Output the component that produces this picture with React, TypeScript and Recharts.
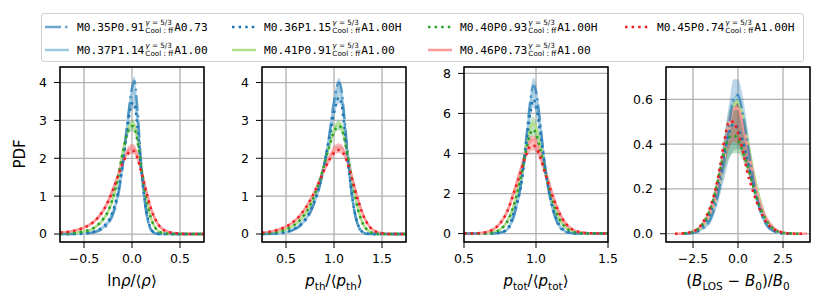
import React from "react"
import { ComposedChart, Line, Area, XAxis, YAxis, CartesianGrid } from "recharts"

// ---- panel 1: ln rho / <rho> ----
const X1 = [-0.75, -0.6, -0.5, -0.4, -0.3, -0.25, -0.2, -0.15, -0.1, -0.05, 0, 0.025, 0.05, 0.1, 0.15, 0.2, 0.25, 0.3, 0.4, 0.5, 0.6, 0.75]
const bDD1 = [0, 0, 0.01, 0.04, 0.15, 0.27, 0.5, 0.95, 1.75, 2.9, 3.85, 4.05, 3.5, 1.7, 0.55, 0.1, 0.01, 0, 0, 0, 0, 0]
const bDot1 = [0, 0.005, 0.02, 0.06, 0.2, 0.33, 0.6, 1.05, 1.8, 2.75, 3.45, 3.45, 3.0, 1.6, 0.6, 0.12, 0.02, 0, 0, 0, 0, 0]
const bSol1 = [0, 0.004, 0.015, 0.05, 0.18, 0.3, 0.56, 1.0, 1.8, 2.85, 3.7, 3.75, 3.25, 1.65, 0.58, 0.11, 0.015, 0, 0, 0, 0, 0]
const bLo1 = [0, 0, 0.01, 0.03, 0.13, 0.24, 0.47, 0.88, 1.6, 2.6, 3.3, 3.3, 2.85, 1.45, 0.48, 0.07, 0.005, 0, 0, 0, 0, 0]
const bHi1 = [0.01, 0.01, 0.03, 0.08, 0.24, 0.38, 0.66, 1.12, 1.95, 3.05, 4.0, 4.17, 3.65, 1.85, 0.68, 0.16, 0.03, 0.005, 0, 0, 0, 0]
const gDot1 = [0.01, 0.03, 0.07, 0.16, 0.4, 0.6, 0.95, 1.45, 2.1, 2.65, 2.85, 2.8, 2.55, 1.7, 0.9, 0.4, 0.14, 0.04, 0.005, 0, 0, 0]
const gSol1 = [0.01, 0.03, 0.065, 0.15, 0.38, 0.58, 0.92, 1.42, 2.1, 2.7, 2.92, 2.88, 2.62, 1.75, 0.92, 0.4, 0.14, 0.04, 0.005, 0, 0, 0]
const gLo1 = [0, 0.02, 0.05, 0.12, 0.33, 0.52, 0.85, 1.33, 1.98, 2.55, 2.72, 2.68, 2.43, 1.6, 0.82, 0.34, 0.11, 0.03, 0, 0, 0, 0]
const gHi1 = [0.02, 0.04, 0.09, 0.19, 0.45, 0.66, 1.02, 1.53, 2.22, 2.82, 3.02, 2.98, 2.72, 1.85, 1.0, 0.47, 0.18, 0.06, 0.01, 0.003, 0, 0]
const rDot1 = [0.04, 0.09, 0.17, 0.32, 0.62, 0.85, 1.15, 1.5, 1.85, 2.1, 2.2, 2.18, 2.05, 1.6, 1.1, 0.65, 0.35, 0.17, 0.04, 0.01, 0, 0]
const rSol1 = [0.04, 0.09, 0.17, 0.32, 0.62, 0.86, 1.17, 1.52, 1.9, 2.17, 2.28, 2.26, 2.12, 1.65, 1.12, 0.66, 0.35, 0.17, 0.04, 0.01, 0, 0]
const rLo1 = [0.02, 0.06, 0.13, 0.27, 0.55, 0.78, 1.07, 1.42, 1.78, 2.04, 2.12, 2.1, 1.97, 1.52, 1.02, 0.58, 0.29, 0.13, 0.02, 0.005, 0, 0]
const rHi1 = [0.06, 0.12, 0.21, 0.37, 0.69, 0.94, 1.27, 1.62, 2.0, 2.28, 2.38, 2.36, 2.22, 1.76, 1.22, 0.74, 0.42, 0.22, 0.07, 0.02, 0.005, 0]

// ---- panel 2: p_th / <p_th> ----
const X2 = [0.25, 0.35, 0.45, 0.55, 0.65, 0.75, 0.8, 0.85, 0.9, 0.95, 1.0, 1.05, 1.075, 1.1, 1.15, 1.2, 1.25, 1.3, 1.35, 1.4, 1.5, 1.6, 1.75]
const bDD2 = [0, 0.005, 0.02, 0.08, 0.22, 0.55, 0.85, 1.25, 1.85, 2.6, 3.5, 4.0, 3.85, 3.3, 1.9, 0.8, 0.22, 0.04, 0, 0, 0, 0, 0]
const bDot2 = [0, 0.01, 0.03, 0.1, 0.25, 0.6, 0.9, 1.3, 1.85, 2.5, 3.2, 3.6, 3.5, 3.0, 1.8, 0.8, 0.25, 0.05, 0.01, 0, 0, 0, 0]
const bSol2 = [0, 0.008, 0.025, 0.09, 0.24, 0.58, 0.88, 1.28, 1.85, 2.55, 3.4, 3.85, 3.72, 3.2, 1.85, 0.8, 0.24, 0.045, 0.005, 0, 0, 0, 0]
const bLo2 = [0, 0, 0.015, 0.06, 0.19, 0.5, 0.79, 1.17, 1.72, 2.38, 3.05, 3.45, 3.35, 2.85, 1.65, 0.66, 0.17, 0.02, 0, 0, 0, 0, 0]
const bHi2 = [0.01, 0.02, 0.04, 0.12, 0.29, 0.66, 0.98, 1.4, 1.98, 2.72, 3.65, 4.12, 4.0, 3.45, 2.05, 0.95, 0.33, 0.08, 0.02, 0.005, 0, 0, 0]
const gDot2 = [0.01, 0.03, 0.08, 0.18, 0.38, 0.75, 1.05, 1.4, 1.85, 2.3, 2.7, 2.85, 2.8, 2.6, 1.95, 1.25, 0.65, 0.28, 0.1, 0.03, 0, 0, 0]
const gSol2 = [0.01, 0.03, 0.08, 0.18, 0.37, 0.74, 1.04, 1.4, 1.86, 2.33, 2.75, 2.9, 2.86, 2.66, 2.0, 1.28, 0.66, 0.28, 0.1, 0.03, 0, 0, 0]
const gLo2 = [0, 0.02, 0.06, 0.15, 0.33, 0.68, 0.97, 1.32, 1.76, 2.2, 2.6, 2.74, 2.7, 2.5, 1.86, 1.16, 0.56, 0.22, 0.07, 0.015, 0, 0, 0]
const gHi2 = [0.02, 0.04, 0.1, 0.21, 0.42, 0.8, 1.11, 1.48, 1.95, 2.44, 2.86, 3.0, 2.96, 2.76, 2.1, 1.38, 0.75, 0.35, 0.14, 0.05, 0.01, 0, 0]
const rDot2 = [0.03, 0.07, 0.14, 0.27, 0.5, 0.88, 1.12, 1.4, 1.7, 1.95, 2.15, 2.22, 2.2, 2.12, 1.8, 1.35, 0.9, 0.52, 0.27, 0.12, 0.02, 0, 0]
const rSol2 = [0.03, 0.07, 0.14, 0.27, 0.5, 0.88, 1.13, 1.42, 1.73, 2.0, 2.22, 2.3, 2.28, 2.2, 1.86, 1.38, 0.92, 0.53, 0.27, 0.12, 0.02, 0, 0]
const rLo2 = [0.015, 0.05, 0.11, 0.23, 0.45, 0.81, 1.05, 1.32, 1.61, 1.87, 2.07, 2.14, 2.12, 2.04, 1.72, 1.26, 0.82, 0.46, 0.22, 0.09, 0.01, 0, 0]
const rHi2 = [0.045, 0.09, 0.17, 0.31, 0.55, 0.95, 1.2, 1.5, 1.83, 2.1, 2.33, 2.4, 2.38, 2.3, 1.96, 1.48, 1.0, 0.6, 0.32, 0.15, 0.03, 0.005, 0]

// ---- panel 3: p_tot / <p_tot> ----
const X3 = [0.5, 0.6, 0.65, 0.7, 0.75, 0.8, 0.85, 0.9, 0.93, 0.96, 0.98, 1.0, 1.03, 1.06, 1.1, 1.15, 1.2, 1.25, 1.3, 1.4, 1.5]
const bDD3 = [0, 0, 0, 0.005, 0.04, 0.18, 0.95, 2.7, 4.6, 6.6, 7.4, 7.1, 5.5, 3.5, 1.7, 0.5, 0.1, 0.02, 0, 0, 0]
const bDot3 = [0, 0, 0, 0.01, 0.05, 0.22, 1.15, 2.6, 4.3, 6.0, 6.7, 6.4, 5.0, 3.4, 1.8, 0.6, 0.15, 0.03, 0, 0, 0]
const bSol3 = [0, 0, 0, 0.008, 0.045, 0.2, 1.05, 2.65, 4.45, 6.3, 7.1, 6.8, 5.3, 3.5, 1.75, 0.55, 0.12, 0.025, 0, 0, 0]
const bLo3 = [0, 0, 0, 0, 0.02, 0.12, 0.8, 2.3, 3.95, 5.6, 6.3, 6.0, 4.65, 3.05, 1.45, 0.4, 0.07, 0.01, 0, 0, 0]
const bHi3 = [0, 0, 0.005, 0.02, 0.08, 0.3, 1.35, 3.0, 4.9, 6.9, 7.8, 7.5, 5.9, 3.9, 2.05, 0.75, 0.2, 0.05, 0.01, 0, 0]
const gDot3 = [0, 0, 0.01, 0.05, 0.2, 0.6, 1.5, 3.0, 4.1, 5.0, 5.2, 5.0, 4.2, 3.2, 2.0, 0.9, 0.35, 0.1, 0.03, 0, 0]
const gSol3 = [0, 0, 0.01, 0.05, 0.2, 0.6, 1.5, 3.1, 4.3, 5.3, 5.5, 5.3, 4.45, 3.35, 2.05, 0.9, 0.35, 0.1, 0.03, 0, 0]
const gLo3 = [0, 0, 0, 0.03, 0.15, 0.5, 1.3, 2.75, 3.8, 4.7, 4.9, 4.7, 3.95, 2.95, 1.8, 0.75, 0.27, 0.07, 0.015, 0, 0]
const gHi3 = [0, 0.005, 0.02, 0.08, 0.26, 0.72, 1.72, 3.35, 4.6, 5.6, 5.85, 5.6, 4.75, 3.6, 2.3, 1.06, 0.44, 0.15, 0.05, 0.005, 0]
const rDot3 = [0, 0.02, 0.07, 0.2, 0.5, 1.1, 2.1, 3.2, 3.9, 4.35, 4.4, 4.3, 3.8, 3.1, 2.2, 1.2, 0.55, 0.22, 0.08, 0.01, 0]
const rSol3 = [0, 0.02, 0.07, 0.2, 0.5, 1.1, 2.15, 3.35, 4.1, 4.6, 4.7, 4.55, 4.0, 3.25, 2.25, 1.22, 0.55, 0.22, 0.08, 0.01, 0]
const rLo3 = [0, 0.01, 0.04, 0.14, 0.4, 0.95, 1.9, 3.0, 3.7, 4.1, 4.15, 4.05, 3.55, 2.85, 1.95, 1.0, 0.42, 0.15, 0.05, 0.005, 0]
const rHi3 = [0.005, 0.04, 0.11, 0.28, 0.62, 1.28, 2.4, 3.6, 4.4, 4.85, 4.9, 4.8, 4.3, 3.55, 2.55, 1.45, 0.7, 0.3, 0.12, 0.02, 0]

// ---- panel 4: (B_LOS - B0) / B0 ----
const X4 = [-3.5, -3, -2.5, -2, -1.5, -1.25, -1, -0.75, -0.5, -0.25, 0, 0.25, 0.5, 0.75, 1, 1.5, 2, 2.5, 3, 3.5, 3.8]
const bDD4 = [null, 0, 0.003, 0.02, 0.07, 0.13, 0.22, 0.34, 0.48, 0.6, 0.62, 0.54, 0.42, 0.29, 0.18, 0.05, 0.01, 0, 0, null, null]
const bDot4 = [null, 0.001, 0.005, 0.03, 0.1, 0.17, 0.26, 0.36, 0.45, 0.49, 0.47, 0.42, 0.34, 0.25, 0.17, 0.06, 0.015, 0.003, 0, null, null]
const bSol4 = [null, 0, 0.004, 0.025, 0.08, 0.14, 0.23, 0.35, 0.49, 0.6, 0.61, 0.54, 0.42, 0.3, 0.19, 0.055, 0.012, 0.002, 0, null, null]
const bLo4 = [null, 0, 0.002, 0.015, 0.05, 0.1, 0.17, 0.25, 0.33, 0.37, 0.38, 0.35, 0.3, 0.22, 0.14, 0.04, 0.008, 0.001, 0, null, null]
const bHi4 = [null, 0.002, 0.01, 0.04, 0.12, 0.2, 0.3, 0.44, 0.58, 0.69, 0.69, 0.62, 0.49, 0.35, 0.23, 0.08, 0.02, 0.005, 0.001, null, null]
const gDot4 = [null, 0.002, 0.01, 0.04, 0.12, 0.19, 0.28, 0.37, 0.43, 0.44, 0.42, 0.37, 0.31, 0.24, 0.17, 0.07, 0.02, 0.004, 0.001, 0, null]
const gSol4 = [null, 0.001, 0.006, 0.03, 0.09, 0.15, 0.24, 0.35, 0.47, 0.57, 0.59, 0.53, 0.43, 0.32, 0.22, 0.08, 0.02, 0.004, 0, 0, null]
const gLo4 = [null, 0, 0.004, 0.02, 0.07, 0.12, 0.19, 0.28, 0.34, 0.36, 0.36, 0.33, 0.28, 0.22, 0.15, 0.06, 0.015, 0.003, 0, 0, null]
const gHi4 = [null, 0.003, 0.014, 0.05, 0.14, 0.22, 0.32, 0.44, 0.55, 0.61, 0.62, 0.56, 0.46, 0.35, 0.25, 0.1, 0.03, 0.007, 0.001, 0, null]
const rDot4 = [0, 0.002, 0.01, 0.045, 0.13, 0.2, 0.3, 0.42, 0.5, 0.5, 0.45, 0.38, 0.28, 0.21, 0.15, 0.06, 0.02, 0.005, 0, 0, 0]
const rSol4 = [0, 0.001, 0.008, 0.035, 0.1, 0.16, 0.25, 0.36, 0.48, 0.56, 0.56, 0.5, 0.4, 0.3, 0.2, 0.08, 0.025, 0.006, 0.001, 0, 0]
const rLo4 = [0, 0, 0.005, 0.025, 0.08, 0.13, 0.21, 0.3, 0.38, 0.41, 0.4, 0.35, 0.29, 0.22, 0.15, 0.06, 0.017, 0.004, 0, 0, 0]
const rHi4 = [0, 0.003, 0.013, 0.05, 0.13, 0.2, 0.3, 0.42, 0.53, 0.59, 0.58, 0.52, 0.43, 0.33, 0.23, 0.09, 0.03, 0.008, 0.002, 0, 0]

const FONT = '"DejaVu Sans", sans-serif'
const MONO = '"DejaVu Sans Mono", monospace'

const C = {
  blue: "#1f77b4",
  green: "#2ca02c",
  red: "#ee1d23",
  lblue: "#9ecae1",
  lgreen: "#b2df8a",
  lred: "#fb9a99",
}

const DASHDOT = "16 4 2.5 4"
const DOTTED = "2.5 4.1"

type Arr = (number | null)[]

function build(x: number[], s: Arr[]) {
  const [bDD, bDot, bSol, bLo, bHi, gDot, gSol, gLo, gHi, rDot, rSol, rLo, rHi] = s
  const band = (lo: Arr, hi: Arr, i: number) =>
    lo[i] == null || hi[i] == null ? null : [lo[i], hi[i]]
  return x.map((v, i) => ({
    x: v,
    bDD: bDD[i],
    bDot: bDot[i],
    bSol: bSol[i],
    bBand: band(bLo, bHi, i),
    gDot: gDot[i],
    gSol: gSol[i],
    gBand: band(gLo, gHi, i),
    rDot: rDot[i],
    rSol: rSol[i],
    rBand: band(rLo, rHi, i),
  }))
}

const data1 = build(X1, [bDD1, bDot1, bSol1, bLo1, bHi1, gDot1, gSol1, gLo1, gHi1, rDot1, rSol1, rLo1, rHi1])
const data2 = build(X2, [bDD2, bDot2, bSol2, bLo2, bHi2, gDot2, gSol2, gLo2, gHi2, rDot2, rSol2, rLo2, rHi2])
const data3 = build(X3, [bDD3, bDot3, bSol3, bLo3, bHi3, gDot3, gSol3, gLo3, gHi3, rDot3, rSol3, rLo3, rHi3])
const data4 = build(X4, [bDD4, bDot4, bSol4, bLo4, bHi4, gDot4, gSol4, gLo4, gHi4, rDot4, rSol4, rLo4, rHi4])

const fmt1 = (v: number) => (v < 0 ? "\u2212" + Math.abs(v).toFixed(1) : v.toFixed(1))
const fmt0 = (v: number) => String(v)

// plot-area geometry (matches the reference pixels)
const PLOT_TOP = 67
const PLOT_W = 144
const PLOT_H = 175
const YW = 45
const RM = 16

interface PanelProps {
  left: number
  data: any[]
  xDomain: [number, number]
  xTicks: number[]
  yDomain: [number, number]
  yTicks: number[]
  fmtY: (v: number) => string
  label: React.ReactNode
}

const tickStyle = { fontSize: 12.5, fill: "#000", fontFamily: FONT }

function Panel({ left, data, xDomain, xTicks, yDomain, yTicks, fmtY, label }: PanelProps) {
  const lineProps = { type: "monotone" as const, dot: false, isAnimationActive: false, connectNulls: false }
  return (
    <>
      <div style={{ position: "absolute", left: left - YW, top: PLOT_TOP - 5 }}>
        <ComposedChart
          width={YW + PLOT_W + RM}
          height={5 + PLOT_H + 30}
          data={data}
          margin={{ top: 5, right: RM, bottom: 0, left: 0 }}
        >
          <CartesianGrid stroke="#b0b0b0" strokeWidth={1.3} />
          <XAxis
            dataKey="x"
            type="number"
            domain={xDomain}
            ticks={xTicks}
            allowDataOverflow
            tickFormatter={fmt1}
            height={30}
            axisLine={false}
            tickLine={{ stroke: "#000" }}
            tickSize={6}
            tickMargin={6}
            tick={tickStyle}
            interval={0}
          />
          <YAxis
            type="number"
            domain={yDomain}
            ticks={yTicks}
            allowDataOverflow
            tickFormatter={fmtY}
            width={YW}
            axisLine={false}
            tickLine={{ stroke: "#000" }}
            tickSize={6}
            tickMargin={7}
            tick={tickStyle}
            interval={0}
          />
          <Area dataKey="bBand" stroke="none" fill={C.blue} fillOpacity={0.3} {...lineProps} />
          <Area dataKey="gBand" stroke="none" fill={C.green} fillOpacity={0.3} {...lineProps} />
          <Area dataKey="rBand" stroke="none" fill={C.red} fillOpacity={0.3} {...lineProps} />
          <Line dataKey="bSol" stroke={C.lblue} strokeWidth={2.5} {...lineProps} />
          <Line dataKey="gSol" stroke={C.lgreen} strokeWidth={2.5} {...lineProps} />
          <Line dataKey="rSol" stroke={C.lred} strokeWidth={2.5} {...lineProps} />
          <Line dataKey="bDD" stroke={C.blue} strokeOpacity={0.65} strokeWidth={2.5} strokeDasharray={DASHDOT} {...lineProps} />
          <Line dataKey="bDot" stroke={C.blue} strokeWidth={2.5} strokeDasharray={DOTTED} {...lineProps} />
          <Line dataKey="gDot" stroke={C.green} strokeWidth={2.5} strokeDasharray={DOTTED} {...lineProps} />
          <Line dataKey="rDot" stroke={C.red} strokeWidth={2.5} strokeDasharray={DOTTED} {...lineProps} />
        </ComposedChart>
      </div>
      <svg
        style={{ position: "absolute", left: left - 1, top: PLOT_TOP - 1, pointerEvents: "none" }}
        width={PLOT_W + 2}
        height={PLOT_H + 2}
      >
        <rect x={1} y={1} width={PLOT_W} height={PLOT_H} fill="none" stroke="#000" strokeWidth={1.5} />
      </svg>
      <div
        style={{
          position: "absolute",
          left: left,
          width: PLOT_W,
          top: 272,
          textAlign: "center",
          fontFamily: FONT,
          fontSize: 15,
          whiteSpace: "nowrap",
        }}
      >
        {label}
      </div>
    </>
  )
}

const I = ({ children }: { children: React.ReactNode }) => <span style={{ fontStyle: "italic" }}>{children}</span>
const Sub = ({ children }: { children: React.ReactNode }) => (
  <span style={{ fontSize: "70%", position: "relative", top: 4 }}>{children}</span>
)

// legend entries, column-major (4 columns x 2 rows)
const LEGEND = [
  { pre: "M0.35P0.91", post: "A0.73", stroke: C.blue, dash: DASHDOT, op: 0.65, col: 0, row: 0 },
  { pre: "M0.37P1.14", post: "A1.00", stroke: C.lblue, dash: undefined, op: 1, col: 0, row: 1 },
  { pre: "M0.36P1.15", post: "A1.00H", stroke: C.blue, dash: DOTTED, op: 1, col: 1, row: 0 },
  { pre: "M0.41P0.91", post: "A1.00", stroke: C.lgreen, dash: undefined, op: 1, col: 1, row: 1 },
  { pre: "M0.40P0.93", post: "A1.00H", stroke: C.green, dash: DOTTED, op: 1, col: 2, row: 0 },
  { pre: "M0.46P0.73", post: "A1.00", stroke: C.lred, dash: undefined, op: 1, col: 2, row: 1 },
  { pre: "M0.45P0.74", post: "A1.00H", stroke: C.red, dash: DOTTED, op: 1, col: 3, row: 0 },
]
const COL_X = [45, 232, 428, 625]
const ROW_Y = [27, 50]

function Legend() {
  return (
    <>
      <div
        style={{
          position: "absolute",
          left: 41,
          top: 13,
          width: 763,
          height: 49,
          border: "1px solid #d0d0d0",
          borderRadius: 3,
          boxSizing: "border-box",
          background: "#fff",
        }}
      />
      {LEGEND.map((e, i) => (
        <div
          key={i}
          style={{
            position: "absolute",
            left: COL_X[e.col],
            top: ROW_Y[e.row] - 10,
            height: 20,
            display: "flex",
            alignItems: "center",
            whiteSpace: "nowrap",
          }}
        >
          <svg width={24} height={6} style={{ marginRight: 8 }}>
            <line x1={0} y1={3} x2={24} y2={3} stroke={e.stroke} strokeOpacity={e.op} strokeWidth={2.5} strokeDasharray={e.dash} />
          </svg>
          <span style={{ fontFamily: MONO, fontSize: 11.2 }}>{e.pre}</span>
          <span
            style={{
              display: "inline-flex",
              flexDirection: "column",
              fontFamily: FONT,
              fontSize: 7.2,
              lineHeight: "8px",
              margin: "0 1px 0 1px",
            }}
          >
            <span>
              <I>γ</I> = 5/3
            </span>
            <span>Cool : ff</span>
          </span>
          <span style={{ fontFamily: MONO, fontSize: 11.2 }}>{e.post}</span>
        </div>
      ))}
    </>
  )
}

export default function App() {
  return (
    <div style={{ position: "absolute", left: 0, top: 0, width: 831, height: 306, background: "#fff", overflow: "hidden" }}>
      <Legend />
      <div
        style={{
          position: "absolute",
          left: 20,
          top: 154,
          transform: "translate(-50%, -50%) rotate(-90deg)",
          fontFamily: FONT,
          fontSize: 15,
        }}
      >
        PDF
      </div>
      <Panel
        left={60}
        data={data1}
        xDomain={[-0.75, 0.75]}
        xTicks={[-0.5, 0, 0.5]}
        yDomain={[-0.21, 4.41]}
        yTicks={[0, 1, 2, 3, 4]}
        fmtY={fmt0}
        label={
          <>
            ln<I>ρ</I>/⟨<I>ρ</I>⟩
          </>
        }
      />
      <Panel
        left={262}
        data={data2}
        xDomain={[0.25, 1.75]}
        xTicks={[0.5, 1.0, 1.5]}
        yDomain={[-0.21, 4.41]}
        yTicks={[0, 1, 2, 3, 4]}
        fmtY={fmt0}
        label={
          <>
            <I>p</I>
            <Sub>th</Sub>/⟨<I>p</I>
            <Sub>th</Sub>⟩
          </>
        }
      />
      <Panel
        left={464}
        data={data3}
        xDomain={[0.5, 1.5]}
        xTicks={[0.5, 1.0, 1.5]}
        yDomain={[-0.42, 8.32]}
        yTicks={[0, 2, 4, 6, 8]}
        fmtY={fmt0}
        label={
          <>
            <I>p</I>
            <Sub>tot</Sub>/⟨<I>p</I>
            <Sub>tot</Sub>⟩
          </>
        }
      />
      <Panel
        left={666}
        data={data4}
        xDomain={[-4, 4]}
        xTicks={[-2.5, 0, 2.5]}
        yDomain={[-0.037, 0.745]}
        yTicks={[0, 0.2, 0.4, 0.6]}
        fmtY={fmt1}
        label={
          <>
            (<I>B</I>
            <Sub>LOS</Sub> − <I>B</I>
            <Sub>0</Sub>)/<I>B</I>
            <Sub>0</Sub>
          </>
        }
      />
    </div>
  )
}
